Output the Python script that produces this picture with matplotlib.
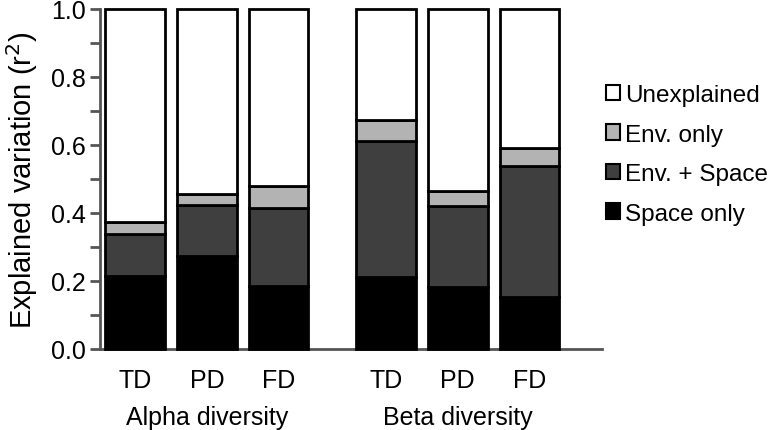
import numpy as np
import matplotlib.pyplot as plt
from matplotlib.patches import Patch

plt.rcParams['font.family'] = ['Liberation Sans', 'DejaVu Sans']

# data
metrics = ['TD', 'PD', 'FD', 'TD', 'PD', 'FD']
groups = ['Alpha diversity', 'Beta diversity']
space_only = [0.216, 0.273, 0.186, 0.213, 0.183, 0.152]
env_space = [0.122, 0.151, 0.228, 0.400, 0.237, 0.387]
env_only = [0.035, 0.032, 0.064, 0.060, 0.046, 0.051]

labels = ['Space only', 'Env. + Space', 'Env. only', 'Unexplained']
colors = ['#000000', '#3f3f3f', '#b3b3b3', '#ffffff']

x = np.array([0, 1, 2, 3.5, 4.5, 5.5])
bw = 0.83

fig = plt.figure(figsize=(7.71, 4.31), dpi=100)
ax = fig.add_axes([0.1297, 0.188, 0.651, 0.789])

explained = np.array(space_only) + np.array(env_space) + np.array(env_only)
unexplained = 1 - explained
layers = [space_only, env_space, env_only, unexplained]

bottom = np.zeros(len(x))
for vals, c in zip(layers, colors):
    ax.bar(x, vals, bw, bottom=bottom, color=c, edgecolor='black',
           linewidth=2, clip_on=False, zorder=3)
    bottom += np.array(vals)

ax.set_ylim(0, 1)
ax.set_xlim(-0.49, 6.51)
ax.set_yticks(np.arange(0, 1.01, 0.2))
ax.set_yticks(np.arange(0, 1.01, 0.1), minor=True)
ax.set_yticklabels(['%.1f' % v for v in np.arange(0, 1.01, 0.2)], fontsize=18)
ax.set_xticks(x)
ax.set_xticklabels(metrics, fontsize=18)
ax.tick_params(axis='x', length=0, pad=14)
ax.tick_params(axis='y', which='both', direction='out', length=7, width=2,
               color='#555555', pad=3)
for s in ['top', 'right']:
    ax.spines[s].set_visible(False)
for s in ['left', 'bottom']:
    ax.spines[s].set_color('#555555')
    ax.spines[s].set_linewidth(2)
ax.set_ylabel('Explained variation (r$^2$)', fontsize=21, labelpad=8)

for xc, g in zip([1, 4.5], groups):
    ax.text(xc, -0.2, g, ha='center', va='center', fontsize=18,
            transform=ax.get_xaxis_transform())

handles = [Patch(facecolor=c, edgecolor='black', linewidth=1.5, label=l)
           for c, l in zip(colors, labels)][::-1]
fig.legend(handles=handles, loc='upper left', bbox_to_anchor=(0.757, 0.853),
           frameon=False, fontsize=17.5, handlelength=0.6, handleheight=0.6,
           handletextpad=0.2, labelspacing=0.72)

fig.savefig('out.png', dpi=100)
